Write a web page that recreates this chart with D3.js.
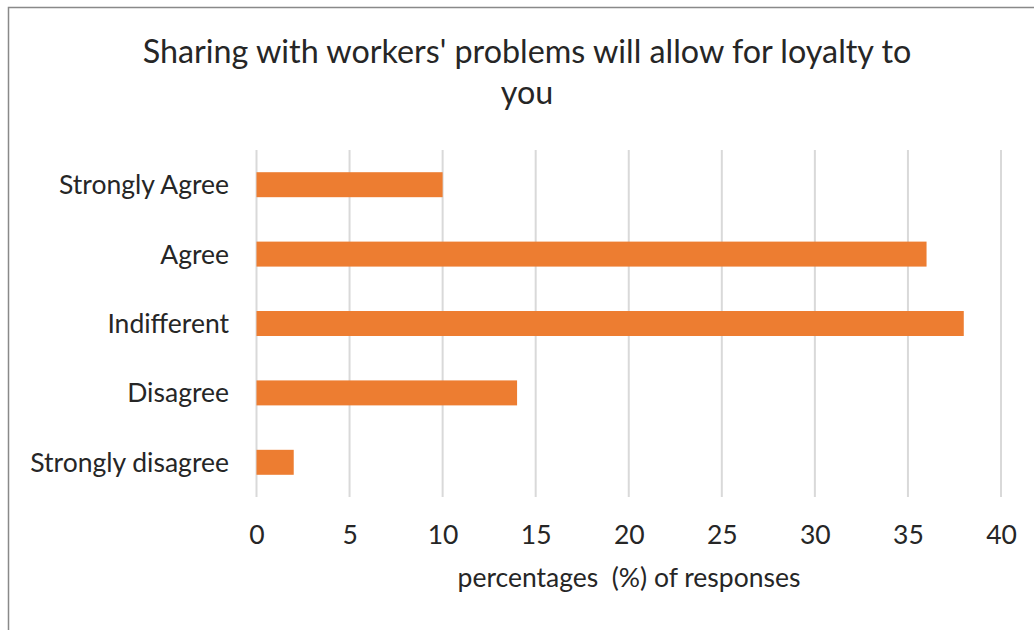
<!DOCTYPE html>
<html>
<head>
<meta charset="utf-8">
<script src="https://cdn.jsdelivr.net/npm/d3@7/dist/d3.min.js"></script>
<style>
  html, body { margin: 0; padding: 0; background: #fff; }
  svg { display: block; }
  text { font-family: Lato, "Open Sans", sans-serif; fill: #262626; }
</style>
</head>
<body>
<svg id="chart" width="1034" height="630"></svg>
<script>
// Survey responses, top to bottom
const categories = ["Strongly Agree", "Agree", "Indifferent", "Disagree", "Strongly disagree"];
const values = [10, 36, 38, 14, 2];
const xTicks = [0, 5, 10, 15, 20, 25, 30, 35, 40];
const titleLines = ["Sharing with workers' problems will allow for loyalty to", "you"];
const xTitle = "percentages\u00a0\u00a0(%) of responses";

const svg = d3.select("#chart");
const W = 1034, H = 630;

// chart frame
svg.append("rect")
  .attr("x", 8.5).attr("y", 7.5)
  .attr("width", W).attr("height", H)
  .attr("fill", "#fff").attr("stroke", "#898989").attr("stroke-width", 1.5);

const plot = { left: 256.5, right: 1001, top: 150, bottom: 497 };

const x = d3.scaleLinear().domain([0, 40]).range([plot.left, plot.right]);
const y = d3.scaleBand().domain(categories).range([plot.top, plot.bottom]).paddingInner(0.64).paddingOuter(0.32);

// vertical gridlines
svg.append("g").selectAll("line").data(xTicks).join("line")
  .attr("x1", d => x(d)).attr("x2", d => x(d))
  .attr("y1", plot.top).attr("y2", plot.bottom)
  .attr("stroke", "#d9d9d9").attr("stroke-width", 2);

// bars
svg.append("g").selectAll("rect").data(values).join("rect")
  .attr("x", x(0))
  .attr("y", (d, i) => y(categories[i]))
  .attr("width", d => x(d) - x(0))
  .attr("height", y.bandwidth())
  .attr("fill", "#ed7d31");

// x axis tick labels
const xAxis = d3.axisBottom(x).tickValues(xTicks).tickSize(0).tickPadding(0);
const gx = svg.append("g").attr("transform", `translate(0,${plot.bottom})`).call(xAxis);
gx.select(".domain").remove();
gx.selectAll("text")
  .attr("dy", null).attr("y", 47)
  .style("font-family", "Lato, 'Open Sans', sans-serif")
  .style("font-size", "26.5px").attr("fill", "#404040");

// category labels
const yAxis = d3.axisLeft(y).tickSize(0).tickPadding(0);
const gy = svg.append("g").attr("transform", `translate(229,0)`).call(yAxis);
gy.select(".domain").remove();
gy.selectAll("text")
  .attr("dy", "0.36em")
  .style("font-family", "Lato, 'Open Sans', sans-serif")
  .style("font-size", "26.5px").attr("fill", "#404040");

// axis title
svg.append("text")
  .attr("x", 629).attr("y", 587)
  .attr("text-anchor", "middle")
  .style("font-size", "26.5px").attr("fill", "#404040")
  .text(xTitle);

// chart title
svg.append("g").selectAll("text").data(titleLines).join("text")
  .attr("x", 527).attr("y", (d, i) => 63 + i * 41)
  .attr("text-anchor", "middle")
  .style("font-size", "32.3px").attr("fill", "#1a1a1a")
  .text(d => d);
</script>
</body>
</html>
